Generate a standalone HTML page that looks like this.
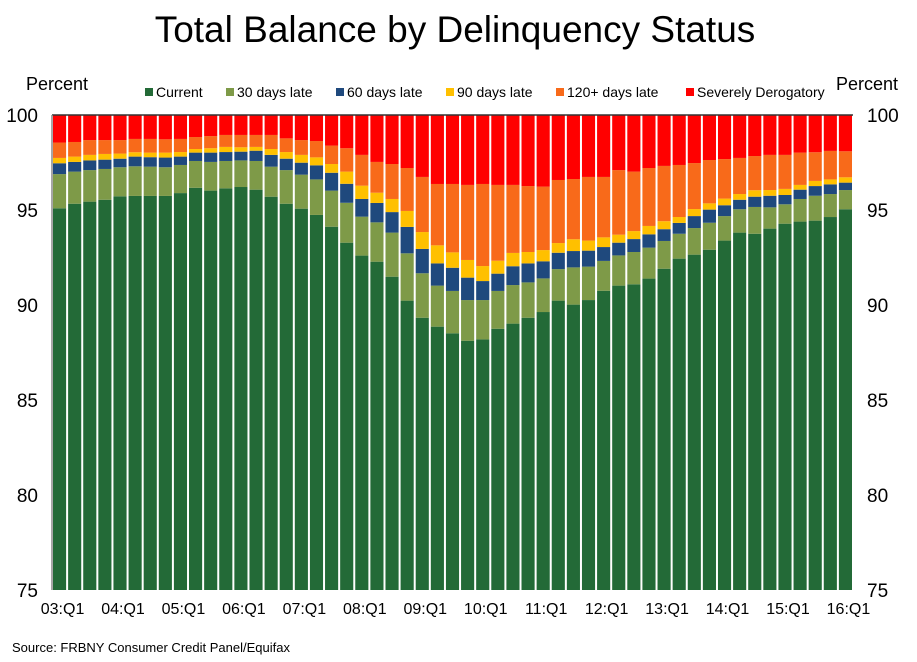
<!DOCTYPE html>
<html><head><meta charset="utf-8"><style>
body{margin:0;background:#fff;width:917px;height:657px;overflow:hidden;font-family:"Liberation Sans",Arial,sans-serif}
</style></head><body>
<svg id="chart" width="917" height="657" viewBox="0 0 917 657" xmlns="http://www.w3.org/2000/svg" font-family="Liberation Sans, Arial, sans-serif">
<text x="455" y="42" font-size="37" text-anchor="middle" fill="#000">Total Balance by Delinquency Status</text>
<text x="26" y="90" font-size="18" fill="#000">Percent</text>
<text x="836" y="90" font-size="18" fill="#000">Percent</text>
<g id="legend"></g>
<g id="bars"></g>
<g id="axes"></g>
<text x="12" y="652" font-size="13" fill="#000">Source: FRBNY Consumer Credit Panel/Equifax</text>
</svg>
<script>
const categories = [];
for (let y = 3; y <= 16; y++) for (let q = 1; q <= 4; q++) { if (y === 16 && q > 1) break; categories.push((y<10?'0':'')+y+':Q'+q); }
const seriesNames = ['Current','30 days late','60 days late','90 days late','120+ days late','Severely Derogatory'];
const current = [95.09,95.33,95.44,95.54,95.72,95.74,95.74,95.74,95.89,96.17,96.02,96.14,96.21,96.07,95.70,95.33,95.07,94.74,94.12,93.28,92.60,92.28,91.49,90.23,89.33,88.86,88.51,88.12,88.19,88.75,89.02,89.33,89.63,90.23,90.02,90.26,90.75,91.02,91.09,91.39,91.91,92.44,92.65,92.91,93.39,93.81,93.75,94.02,94.28,94.39,94.44,94.63,95.04];
const late30 = [1.80,1.69,1.66,1.62,1.53,1.56,1.54,1.51,1.48,1.41,1.51,1.44,1.40,1.51,1.58,1.77,1.79,1.87,1.90,2.10,2.05,2.07,2.32,2.49,2.34,2.16,2.23,2.14,2.07,1.99,2.03,1.86,1.77,1.66,1.96,1.76,1.57,1.59,1.70,1.63,1.46,1.31,1.40,1.42,1.29,1.23,1.41,1.12,1.02,1.19,1.31,1.21,1.01];
const late60 = [0.57,0.51,0.51,0.49,0.45,0.51,0.50,0.51,0.44,0.44,0.49,0.47,0.46,0.54,0.62,0.60,0.63,0.74,0.94,1.00,0.93,1.02,1.08,1.39,1.28,1.17,1.22,1.18,1.00,0.91,0.99,1.00,0.90,0.86,0.86,0.84,0.73,0.67,0.68,0.70,0.62,0.57,0.63,0.69,0.57,0.50,0.54,0.61,0.49,0.49,0.51,0.51,0.39];
const late90 = [0.28,0.28,0.29,0.30,0.27,0.23,0.24,0.26,0.24,0.19,0.23,0.27,0.23,0.20,0.31,0.35,0.41,0.42,0.46,0.64,0.70,0.54,0.69,0.84,0.89,0.95,0.81,0.93,0.79,0.68,0.70,0.60,0.59,0.51,0.62,0.53,0.51,0.42,0.42,0.44,0.42,0.31,0.37,0.33,0.35,0.30,0.34,0.30,0.32,0.25,0.27,0.26,0.28];
const late120 = [0.81,0.77,0.78,0.73,0.71,0.70,0.72,0.70,0.69,0.63,0.64,0.63,0.65,0.63,0.74,0.72,0.78,0.86,0.97,1.23,1.62,1.62,1.84,2.26,2.90,3.23,3.60,3.95,4.32,3.99,3.58,3.47,3.34,3.32,3.17,3.35,3.18,3.40,3.13,3.05,2.91,2.74,2.42,2.28,2.08,1.90,1.80,1.85,1.79,1.70,1.51,1.50,1.37];
const severe = [1.45,1.42,1.32,1.32,1.32,1.26,1.26,1.28,1.26,1.16,1.11,1.05,1.05,1.05,1.05,1.23,1.32,1.37,1.61,1.75,2.10,2.47,2.58,2.79,3.26,3.63,3.63,3.68,3.63,3.68,3.68,3.74,3.77,3.42,3.37,3.26,3.26,2.90,2.98,2.79,2.68,2.63,2.53,2.37,2.32,2.26,2.16,2.10,2.10,1.98,1.96,1.89,1.91];
const yTicks = [75,80,85,90,95,100];
const series = [current, late30, late60, late90, late120, severe];
const colors = ['#236A37','#7E9A48','#1F497D','#FFC000','#F86A1A','#FF0000'];

const NS='http://www.w3.org/2000/svg';
const L=52, R=853, T=115, B=590, yMin=75, yMax=100;
const step=(R-L)/categories.length;
const yS=v=>B-(Math.min(Math.max(v,yMin),yMax)-yMin)/(yMax-yMin)*(B-T);
const xS=i=>L+i*step;
function mk(tag,attrs,parent){const e=document.createElementNS(NS,tag);for(const k in attrs)e.setAttribute(k,attrs[k]);parent.appendChild(e);return e;}

const bars=document.getElementById('bars');
const slug=['current','30-days','60-days','90-days','120-days','severe'];
categories.forEach((c,i)=>{
  let base=0;
  series.forEach((s,k)=>{
    const top=base+s[i];
    const r=mk('rect',{x:xS(i)+1,y:yS(top),width:step-2,height:Math.max(0,yS(base)-yS(top)),fill:colors[k]},bars);
    
    
    base=top;
  });
});

const axes=document.getElementById('axes');
const fr=mk('line',{x1:L,y1:T,x2:R,y2:T,stroke:'#333','stroke-width':1.5},axes);


const ax=mk('line',{x1:L,y1:T,x2:L,y2:B,stroke:'#888','stroke-width':1.5},axes);


yTicks.forEach(t=>{
  const a=mk('text',{x:38,y:yS(t)+7,'font-size':19,'text-anchor':'end',fill:'#000'},axes);
  a.textContent=t;
  
  
  const b=mk('text',{x:867,y:yS(t)+7,'font-size':19,'text-anchor':'start',fill:'#000'},axes);
  b.textContent=t;
  
  
});
categories.forEach((c,i)=>{
  if(i%4!==0)return;
  const t=mk('text',{x:xS(i)+step/2+3,y:614,'font-size':16,'text-anchor':'middle',fill:'#000'},axes);
  t.textContent=c;
  
  
});

const lg=document.getElementById('legend');
const lx=[145,226,336,446,556,686];
seriesNames.forEach((n,k)=>{
  const r=mk('rect',{x:lx[k],y:88,width:8,height:8,fill:colors[k]},lg);
  
  
  const t=mk('text',{x:lx[k]+11,y:97,'font-size':14,fill:'#000'},lg);
  t.textContent=n;
  
  
});
</script>
</body></html>
